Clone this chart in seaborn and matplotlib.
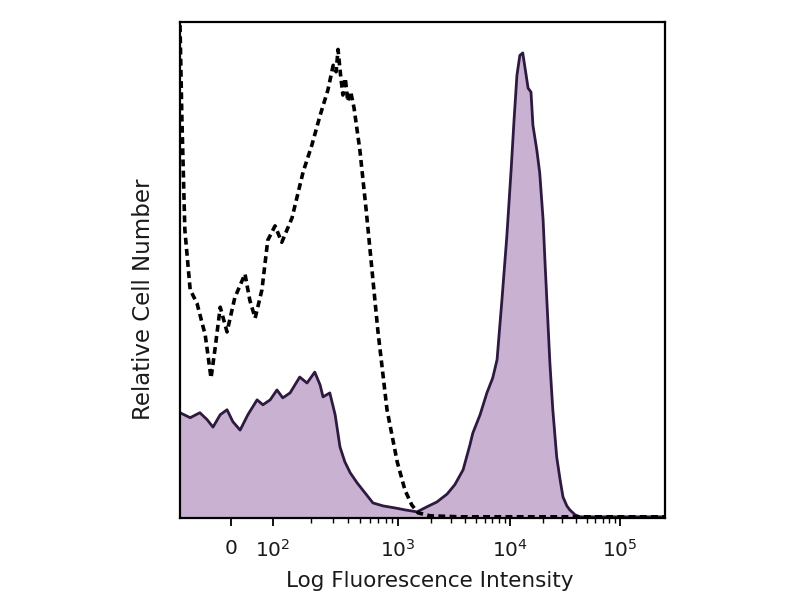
import numpy as np
import pandas as pd
import matplotlib
matplotlib.use("Agg")
import matplotlib.pyplot as plt
import seaborn as sns

# --- DATA (channel position on a 0-1000 biexponential scale, % of max count) ---
iso_channel = [0, 4, 10, 21, 35, 52, 64, 72, 83, 97, 113, 134, 144, 155, 169, 181,
               196, 210, 231, 254, 272, 289, 305, 316, 322, 326, 331, 336, 341, 346,
               352, 359, 371, 384, 396, 408, 427, 448, 464, 478, 491, 516, 577, 1000]
iso_count = [99.4, 80.2, 58.1, 46.0, 43.3, 36.9, 28.2, 33.9, 42.5, 37.5, 44.4, 49.2,
             43.9, 40.3, 46.0, 56.0, 58.9, 55.6, 60.5, 69.8, 75.2, 81.2, 86.3, 91.3,
             90.0, 94.5, 89.5, 85.3, 88.7, 84.0, 86.0, 82.7, 74.2, 62.1, 50.0, 37.9,
             21.8, 11.3, 5.6, 2.6, 1.0, 0.4, 0.2, 0.2]

stain_channel = [0, 21, 41, 56, 68, 83, 97, 109, 124, 140, 159, 171, 186, 200, 212,
                 227, 247, 262, 278, 289, 295, 309, 320, 330, 340, 351, 365, 377, 398,
                 419, 443, 464, 489, 509, 530, 551, 567, 584, 598, 604, 619, 633, 645,
                 654, 664, 674, 683, 689, 695, 701, 707, 714, 718, 724, 728, 736, 742,
                 749, 753, 763, 769, 777, 784, 790, 798, 804, 815, 825, 1000]
stain_count = [21.2, 20.2, 21.2, 19.8, 18.3, 20.8, 21.8, 19.4, 17.7, 20.8, 23.8, 22.8,
               23.8, 25.8, 24.2, 25.2, 28.4, 27.2, 29.4, 26.8, 24.4, 25.2, 20.8, 14.3,
               11.3, 9.1, 7.1, 5.6, 3.0, 2.4, 2.0, 1.6, 1.2, 2.2, 3.2, 4.8, 6.7, 9.7,
               14.7, 17.1, 20.8, 25.2, 28.2, 31.9, 43.9, 56.6, 70.2, 80.2, 89.3, 93.3,
               93.8, 89.3, 86.7, 85.9, 79.2, 74.2, 69.6, 60.1, 51.4, 31.2, 21.8, 12.3,
               7.7, 4.2, 2.4, 1.6, 0.6, 0.2, 0.2]

tick_pos = [105, 192, 449, 680, 907]
tick_labels = ["0", "$10^2$", "$10^3$", "$10^4$", "$10^5$"]

iso = pd.DataFrame({"channel": iso_channel, "count": iso_count})
stain = pd.DataFrame({"channel": stain_channel, "count": stain_count})

sns.set_theme(style="white")
plt.rcParams["font.family"] = ["DejaVu Sans"]

fig = plt.figure(figsize=(8, 6), dpi=100)
ax = fig.add_axes([0.225, 0.137, 0.606, 0.826])

# stained sample: filled histogram
ax.fill_between(stain["channel"], stain["count"], 0, color="#c9b1d2", linewidth=0)
sns.lineplot(data=stain, x="channel", y="count", sort=False, estimator=None,
             color="#2e1a40", linewidth=2.0, ax=ax)

# isotype control: dashed
sns.lineplot(data=iso, x="channel", y="count", sort=False, estimator=None,
             color="black", linewidth=2.6, linestyle=(0, (1.9, 1.2)), ax=ax)

ax.set_xlim(0, 1000)
ax.set_ylim(0, 100)

# minor log ticks within each decade
minor = []
for a, b in zip(tick_pos[1:-1], tick_pos[2:]):
    for k in range(2, 10):
        minor.append(a + (b - a) * np.log10(k))
ax.set_xticks(tick_pos)
ax.set_xticklabels(tick_labels, fontsize=14.5, color="#1a1a1a")
ax.set_xticks(minor, minor=True)
ax.tick_params(axis="x", which="major", direction="out", length=6, width=1.3,
               bottom=True, color="black", pad=9)
ax.tick_params(axis="x", which="minor", direction="out", length=3.5, width=1.0,
               bottom=True, color="black")
ax.set_yticks([])

for s in ax.spines.values():
    s.set_color("black")
    s.set_linewidth(1.6)

ax.set_xlabel("Log Fluorescence Intensity", fontsize=15.5, color="#1a1a1a")
ax.set_ylabel("Relative Cell Number", fontsize=16.5, color="#1a1a1a")
ax.xaxis.set_label_coords(0.515, -0.108)
ax.yaxis.set_label_coords(-0.052, 0.44)

fig.savefig("out.png", dpi=100)
